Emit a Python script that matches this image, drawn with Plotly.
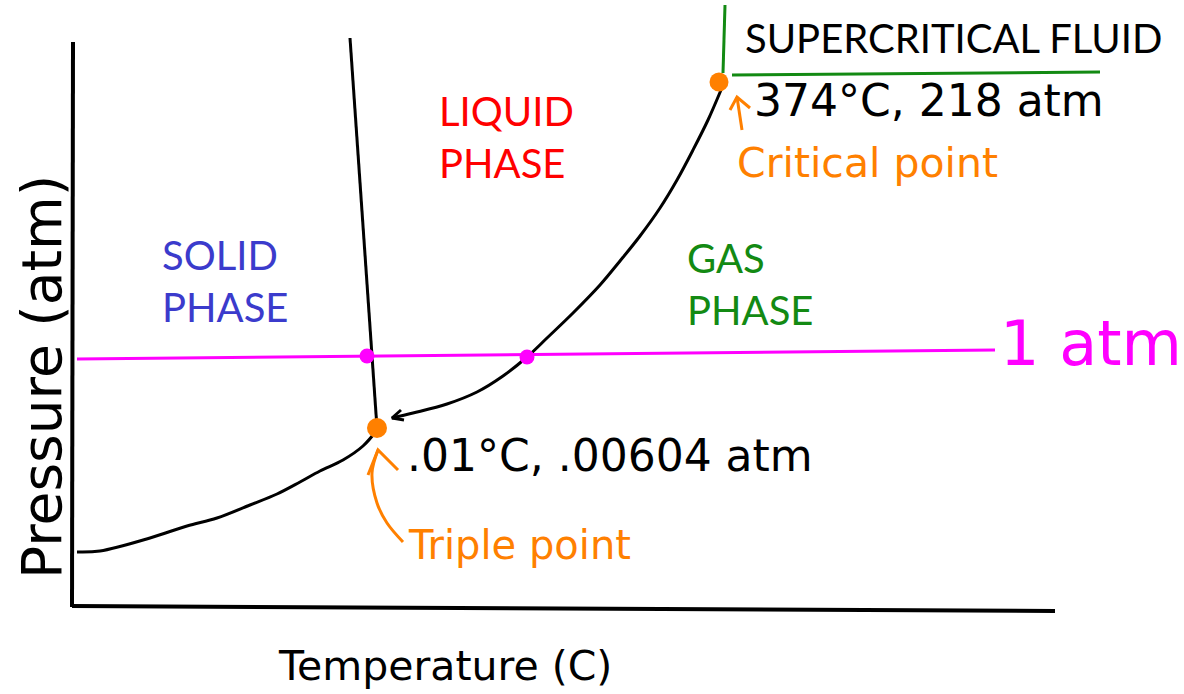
import plotly.graph_objects as go

# Sketch coordinates (temperature → right, pressure → up; y axis reversed in sketch space)
axis_y_x = [73, 72]
axis_y_y = [42, 607]
axis_x_x = [72, 1055]
axis_x_y = [606, 611]

melt_x = [350, 377]
melt_y = [38, 428]

subl_x = [77, 100, 150, 187, 217, 250, 277, 300, 320, 343, 363, 377]
subl_y = [552, 551, 538, 526, 518, 505, 494, 482, 471, 460, 446, 430]

vap_x = [392, 413, 447, 477, 503, 527, 547, 573, 600, 620, 640, 660, 677, 693, 708, 721]
vap_y = [418, 413, 404, 392, 376, 357, 338, 313, 285, 261, 236, 208, 180, 150, 120, 90]
vap_head_x = [401, 392, 404]
vap_head_y = [410, 418, 420]

atm_line_x = [77, 995]
atm_line_y = [359, 350]
atm_dots_x = [367, 527]
atm_dots_y = [356, 357]

sc_vert_x = [725, 723]
sc_vert_y = [5, 73]
sc_horiz_x = [732, 1100]
sc_horiz_y = [75, 72]

triple_x = [377]
triple_y = [428]
critical_x = [719]
critical_y = [82]

crit_arrow_x = [742, 737]
crit_arrow_y = [130, 97]
crit_head_x = [730, 737, 750]
crit_head_y = [110, 97, 108]

trip_arrow_x = [403, 387, 377, 372, 378]
trip_arrow_y = [542, 523, 503, 473, 450]
trip_head_x = [368, 378, 398]
trip_head_y = [475, 450, 470]

BLACK = "#000000"
PINK = "#ff00ff"
ORANGE = "#ff8000"
GREEN = "#138a13"

fig = go.Figure()

def line(x, y, color, width, smooth=True):
    ln = dict(color=color, width=width)
    if smooth:
        ln.update(shape="spline", smoothing=1.0)
    fig.add_trace(go.Scatter(x=x, y=y, mode="lines", line=ln, hoverinfo="skip", showlegend=False))

line(axis_y_x, axis_y_y, BLACK, 4, False)
line(axis_x_x, axis_x_y, BLACK, 4, False)
line(melt_x, melt_y, BLACK, 3, False)
line(subl_x, subl_y, BLACK, 3)
line(vap_x, vap_y, BLACK, 3)
line(vap_head_x, vap_head_y, BLACK, 3, False)
line(atm_line_x, atm_line_y, PINK, 3, False)
line(sc_vert_x, sc_vert_y, GREEN, 3, False)
line(sc_horiz_x, sc_horiz_y, GREEN, 3, False)
line(crit_arrow_x, crit_arrow_y, ORANGE, 3, False)
line(crit_head_x, crit_head_y, ORANGE, 3, False)
line(trip_arrow_x, trip_arrow_y, ORANGE, 3)
line(trip_head_x, trip_head_y, ORANGE, 3, False)

fig.add_trace(go.Scatter(x=atm_dots_x, y=atm_dots_y, mode="markers",
                         marker=dict(color=PINK, size=15), hoverinfo="skip", showlegend=False))
fig.add_trace(go.Scatter(x=triple_x, y=triple_y, mode="markers",
                         marker=dict(color=ORANGE, size=20), hoverinfo="skip", showlegend=False))
fig.add_trace(go.Scatter(x=critical_x, y=critical_y, mode="markers",
                         marker=dict(color=ORANGE, size=19), hoverinfo="skip", showlegend=False))

CAPS_FONT = "Lato"
TEXT_FONT = "DejaVu Sans"
HAND_FONT = "DejaVu Sans"

labels = [
    dict(text="SUPERCRITICAL FLUID", x=743, y=38, color=BLACK, size=40, font=CAPS_FONT),
    dict(text="LIQUID<br>PHASE", x=437, y=137, color="#ff0000", size=40, font=CAPS_FONT),
    dict(text="SOLID<br>PHASE", x=160, y=281, color="#3b3bcc", size=40, font=CAPS_FONT),
    dict(text="GAS<br>PHASE", x=685, y=284, color=GREEN, size=40, font=CAPS_FONT),
    dict(text="Critical point", x=735, y=163, color=ORANGE, size=41, font=TEXT_FONT),
    dict(text="Triple point", x=406, y=545, color=ORANGE, size=40, font=TEXT_FONT),
    dict(text="Temperature (C)", x=276, y=666, color=BLACK, size=41, font=TEXT_FONT),
    dict(text="374°C, 218 atm", x=752, y=100, color=BLACK, size=44, font=HAND_FONT),
    dict(text=".01°C, .00604 atm", x=405, y=455, color=BLACK, size=44, font=HAND_FONT),
    dict(text="1 atm", x=998, y=343, color=PINK, size=62, font=HAND_FONT),
]
for lb in labels:
    fig.add_annotation(x=lb["x"], y=lb["y"], xref="x", yref="y", text=lb["text"], showarrow=False,
                       xanchor="left", yanchor="middle", align="left",
                       font=dict(family=lb["font"], size=lb["size"], color=lb["color"]))

fig.add_annotation(x=42, y=377, xref="x", yref="y", text="Pressure (atm)", showarrow=False,
                   textangle=-90, xanchor="center", yanchor="middle",
                   font=dict(family=HAND_FONT, size=55, color=BLACK))

fig.update_layout(
    width=1184, height=694, margin=dict(l=0, r=0, t=0, b=0),
    paper_bgcolor="white", plot_bgcolor="white",
    xaxis=dict(range=[0, 1184], visible=False, fixedrange=True),
    yaxis=dict(range=[694, 0], visible=False, fixedrange=True),
)

fig.write_html("out.html", config={"displayModeBar": False},
               post_script="document.body.style.margin='0';")
